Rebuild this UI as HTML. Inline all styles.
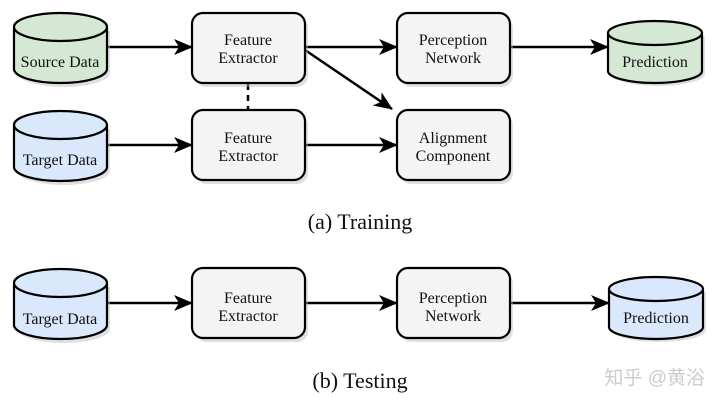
<!DOCTYPE html>
<html><head><meta charset="utf-8"><style>
html,body{margin:0;padding:0;background:#fff;}
svg{display:block;}
text{font-family:"Liberation Serif",serif;fill:#111;}
</style></head><body>
<svg width="720" height="405" viewBox="0 0 720 405" xmlns="http://www.w3.org/2000/svg">
<defs>
<marker id="ah" markerWidth="20" markerHeight="16" refX="18" refY="8" orient="auto" markerUnits="userSpaceOnUse">
<path d="M0,0 L19,8 L0,16 L5,8 Z" fill="#000"/>
</marker>
<g id="box"><rect x="3" y="4" width="113" height="70" rx="11" fill="#bbb" opacity="0.45"/><rect x="0" y="0" width="113" height="70" rx="11" fill="#f4f4f4" stroke="#000" stroke-width="2.2"/></g>
</defs>
<g stroke="#000" stroke-width="2.5" fill="none">
<line x1="107" y1="47" x2="192" y2="47" marker-end="url(#ah)"/>
<line x1="305" y1="47" x2="397" y2="47" marker-end="url(#ah)"/>
<line x1="510" y1="47" x2="608" y2="47" marker-end="url(#ah)"/>
<line x1="305" y1="50" x2="392" y2="109" marker-end="url(#ah)"/>
<line x1="107" y1="145" x2="192" y2="145" marker-end="url(#ah)"/>
<line x1="305" y1="145" x2="397" y2="145" marker-end="url(#ah)"/>
<line x1="248" y1="84" x2="248" y2="110" stroke-dasharray="6,5"/>
<line x1="107" y1="303" x2="192" y2="303" marker-end="url(#ah)"/>
<line x1="305" y1="303" x2="397" y2="303" marker-end="url(#ah)"/>
<line x1="510" y1="303" x2="609" y2="303" marker-end="url(#ah)"/>
</g>
<g stroke="#000" stroke-width="2.2">
<g transform="translate(14,13)"><path d="M3,18 v42 a46.5,14 0 0 0 93,0 v-42 z" fill="#bbb" opacity="0.45" stroke="none"/><path d="M0,14 v42 a46.5,14 0 0 0 93,0 v-42 a46.5,14 0 0 0 -93,0 a46.5,14 0 0 0 93,0" fill="#d5e8d4"/></g>
<g transform="translate(14,111)"><path d="M3,18 v42 a46.5,14 0 0 0 93,0 v-42 z" fill="#bbb" opacity="0.45" stroke="none"/><path d="M0,14 v42 a46.5,14 0 0 0 93,0 v-42 a46.5,14 0 0 0 -93,0 a46.5,14 0 0 0 93,0" fill="#dae8fc"/></g>
<g transform="translate(608,21)"><path d="M3,15 v38 a47,12 0 0 0 94,0 v-38 z" fill="#bbb" opacity="0.45" stroke="none"/><path d="M0,12 v38 a47,12 0 0 0 94,0 v-38 a47,12 0 0 0 -94,0 a47,12 0 0 0 94,0" fill="#d5e8d4"/></g>
<g transform="translate(14,269)"><path d="M3,18 v42 a46.5,14 0 0 0 93,0 v-42 z" fill="#bbb" opacity="0.45" stroke="none"/><path d="M0,14 v42 a46.5,14 0 0 0 93,0 v-42 a46.5,14 0 0 0 -93,0 a46.5,14 0 0 0 93,0" fill="#dae8fc"/></g>
<g transform="translate(609,277)"><path d="M3,15 v38 a47,12 0 0 0 94,0 v-38 z" fill="#bbb" opacity="0.45" stroke="none"/><path d="M0,12 v38 a47,12 0 0 0 94,0 v-38 a47,12 0 0 0 -94,0 a47,12 0 0 0 94,0" fill="#dae8fc"/></g>
</g>
<use href="#box" x="192" y="13"/>
<use href="#box" x="397" y="13"/>
<use href="#box" x="192" y="110"/>
<use href="#box" x="397" y="110"/>
<use href="#box" x="192" y="268"/>
<use href="#box" x="397" y="268"/>
<g font-size="16" text-anchor="middle">
<text x="60" y="67">Source Data</text>
<text x="60" y="165">Target Data</text>
<text x="655" y="67">Prediction</text>
<text x="60" y="324">Target Data</text>
<text x="656" y="323">Prediction</text>
<text x="248" y="45">Feature</text><text x="248" y="63">Extractor</text>
<text x="453" y="45">Perception</text><text x="453" y="63">Network</text>
<text x="248" y="143">Feature</text><text x="248" y="161">Extractor</text>
<text x="453" y="143">Alignment</text><text x="453" y="161">Component</text>
<text x="248" y="303">Feature</text><text x="248" y="321">Extractor</text>
<text x="453" y="303">Perception</text><text x="453" y="321">Network</text>
</g>
<text x="360" y="229" font-size="22" text-anchor="middle">(a) Training</text>
<text x="360" y="388" font-size="22" text-anchor="middle">(b) Testing</text>
<text x="705" y="384" font-size="19" text-anchor="end" style="font-family:'Liberation Sans','Noto Sans CJK SC',sans-serif;fill:#ccc;">知乎 @黄浴</text>
</svg>
</body></html>
